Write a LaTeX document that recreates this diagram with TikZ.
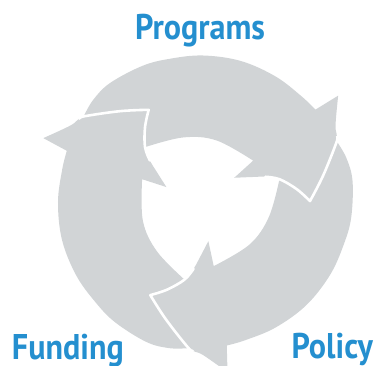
\documentclass[tikz,border=0pt]{standalone}
\usepackage{fontspec}
\newfontfamily\labelfont[FakeStretch=0.9]{PT Sans}
\definecolor{arrowgray}{RGB}{209,212,214}
\definecolor{labelblue}{RGB}{36,143,207}
\begin{document}
\begin{tikzpicture}[x=1pt,y=1pt,
  arrowbody/.style={fill=arrowgray},
  gapline/.style={draw=white, line width=2.6pt, line join=round, line cap=round},
  lbl/.style={text=labelblue, font=\labelfont\bfseries\fontsize{35.7}{36}\selectfont, inner sep=0pt, outer sep=0pt}]
\useasboundingbox (0,0) rectangle (378,366);
\coordinate (C) at (203,164);
% arrow bodies (top arrow defined, others rotated)
\foreach \r in {0,120,-120} {
  \fill[arrowbody, shift={(C)}, rotate=\r]
    (144:147)
    -- plot[smooth, tension=0.6] coordinates {(144:147) (137:150) (128:151) (114:149) (103:147) (90:146.5) (75:146) (60:145) (47:144.5) (39.4:145.5)}
    -- (38.2:172)
    -- plot[smooth, tension=0.6] coordinates {(38.2:172) (30:153) (24:146) (12.4:123) (0.5:107)}
    -- plot[smooth, tension=0.6] coordinates {(0.5:107) (7.8:94.6) (16.6:79.8) (22:67.3) (27:55) (37.8:39.5)}
    -- (39.5:65)
    -- plot[smooth, tension=0.6] coordinates {(39.5:65) (77.5:63) (107:67.5) (136.6:79.8)}
    -- plot[smooth, tension=0.6] coordinates {(136.6:79.8) (127.8:94.6) (120.5:107)}
    -- plot[smooth, tension=0.6] coordinates {(120.5:107) (132.4:123) (144:146) (146:148)}
    -- cycle;
}
% white gaps between each head and the next tail
\foreach \r in {0,120,-120} {
  \draw[gapline, shift={(C)}, rotate=\r]
    plot[smooth, tension=0.6] coordinates {(26:149) (24:146) (12.4:123) (0.5:107)}
    -- plot[smooth, tension=0.6] coordinates {(0.5:107) (7.8:94.6) (16.6:79.8) (22:67.3)};
}
\node[lbl, anchor=base] (programs) at (200,326) {Programs};
\node[lbl, anchor=base west] (funding) at (12,6) {Funding};
\node[lbl, anchor=base east] (policy) at (373,7) {Policy};
\end{tikzpicture}
\end{document}
